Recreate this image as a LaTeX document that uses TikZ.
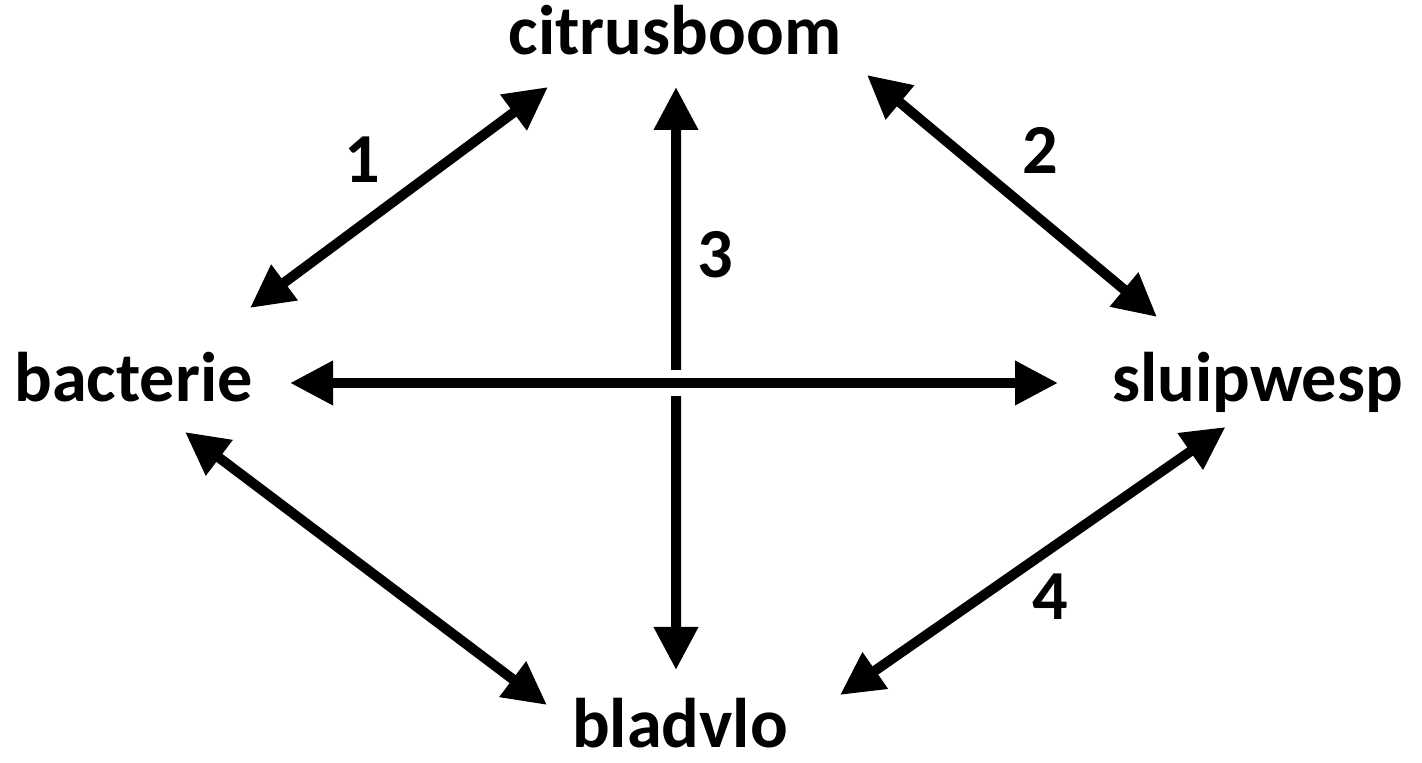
\documentclass[tikz,border=0pt]{standalone}
\usepackage{fontspec}
\setmainfont{Carlito}
\usepackage{tikz}
\usetikzlibrary{arrows.meta, calc}

\begin{document}
\begin{tikzpicture}[
      organism/.style={font=\fontsize{20}{24}\selectfont\bfseries, anchor=base, inner sep=2pt},
      num/.style={font=\fontsize{20}{24}\selectfont\bfseries, inner sep=1pt},
      link/.style={{Triangle[length=4.3mm, width=4.2mm]}-{Triangle[length=4.3mm, width=4.2mm]}, line width=1mm, black},
      over/.style={preaction={draw=white, line width=2.6mm, -}}
    ]
    \useasboundingbox (0,0) rectangle (14.22,-7.63);

    \node[organism] (citrus) at (6.75,-0.55) {citrusboom};
    \node[organism] (bact) at (1.335,-4.02) {bacterie};
    \node[organism] (wesp) at (12.575,-4.02) {sluipwesp};
    \node[organism] (vlo) at (6.80,-7.48) {bladvlo};

    \node[num] (n1) at (3.62,-1.60) {1};
    \node[num] (n2) at (10.40,-1.50) {2};
    \node[num] (n3) at (7.15,-2.55) {3};
    \node[num] (n4) at (10.50,-5.97) {4};

    \draw[link] ([shift={(1.165,0.94)}]bact.base) -- ([shift={(-1.27,-0.32)}]citrus.base);
    \draw[link] ([shift={(1.92,-0.20)}]citrus.base) -- ([shift={(-1.005,0.85)}]wesp.base);
    \draw[link] ([shift={(0.515,-0.30)}]bact.base) -- ([shift={(-1.33,0.43)}]vlo.base);
    \draw[link] ([shift={(-0.32,-0.25)}]wesp.base) -- ([shift={(1.60,0.53)}]vlo.base);
    \draw[link] ([shift={(0.01,-0.32)}]citrus.base) -- ([shift={(-0.04,0.78)}]vlo.base);
    \draw[link, over] ([shift={(1.565,0.19)}]bact.base) -- ([shift={(-1.995,0.19)}]wesp.base);
  \end{tikzpicture}
\end{document}
